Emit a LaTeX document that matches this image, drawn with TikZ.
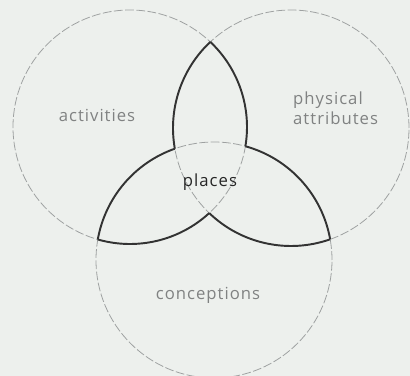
\documentclass[tikz,border=0pt]{standalone}
\usepackage{fontspec}
\setmainfont{Open Sans}
\usepackage{tikz}
\usetikzlibrary{positioning}
\definecolor{paper}{rgb}{0.93,0.94,0.93}
\definecolor{ringgray}{rgb}{0.62,0.63,0.63}
\definecolor{labelgray}{rgb}{0.50,0.51,0.51}

\begin{document}
\begin{tikzpicture}[x=0.02cm,y=0.02cm,
  ring/.style={ringgray,line width=0.45pt,dash pattern=on 5pt off 1.4pt},
  lens/.style={black!80,line width=1.1pt},
  lbl/.style={labelgray,font=\fontsize{9.5}{11.5}\selectfont\addfontfeature{LetterSpace=6},align=left}]
\useasboundingbox (0,0) rectangle (410,376);
\fill[paper] (0,0) rectangle (410,376);
% centres of the three sets
\coordinate (act) at (130,249);
\coordinate (phys) at (291,248);
\coordinate (conc) at (214,116);
% faint outlines
\draw[ring] (act) circle (117);
\draw[ring] (phys) circle (118);
\draw[ring] (conc) circle (118);
% outline of the pairwise overlaps
\draw[lens] (act) ++(46.66:117) arc[start angle=46.66,end angle=-9.47,radius=117];
\draw[lens] (act) ++(-105.98:117) arc[start angle=-105.98,end angle=-47.39,radius=117];
\draw[lens] (phys) ++(133.14:118) arc[start angle=133.14,end angle=190.10,radius=118];
\draw[lens] (phys) ++(226.13:118) arc[start angle=226.13,end angle=289.39,radius=118];
\draw[lens] (conc) ++(109.39:118) arc[start angle=109.39,end angle=169.99,radius=118];
\draw[lens] (conc) ++(10.10:118) arc[start angle=10.10,end angle=74.56,radius=118];
% labels
\node[lbl] (actlabel) at (97,261) {activities};
\node[lbl,anchor=west] (physlabel) at (287,268) {physical\\attributes};
\node[lbl,text=black!85] (placelabel) at (210,194) {places};
\node[lbl] (conclabel) at (208,81) {conceptions};
\end{tikzpicture}
\end{document}
